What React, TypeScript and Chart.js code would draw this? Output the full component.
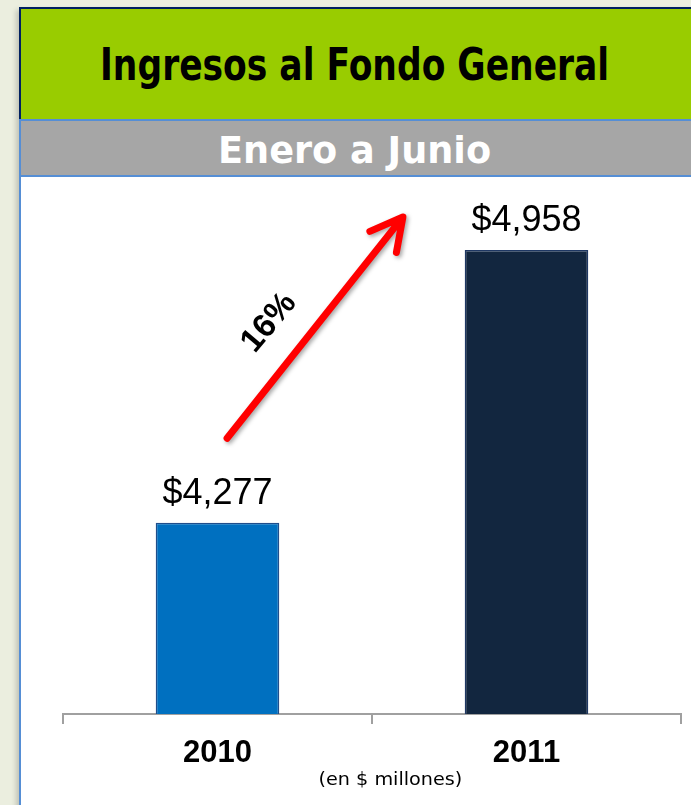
import React, { useEffect, useLayoutEffect, useRef } from "react";
import { Chart, registerables } from "chart.js";

Chart.register(...registerables);

const CATEGORIES = ["2010", "2011"];
const VALUES = [4277, 4958];
const VALUE_LABELS = ["$4,277", "$4,958"];
const BAR_COLORS = ["#0070C0", "#12263F"];
const BAR_BORDERS = ["#1F4E8C", "#1F3864"];
const Y_MIN = 3800;
const Y_MAX = 5100;
const TITLE = "Ingresos al Fondo General";
const SUBTITLE = "Enero a Junio";
const UNITS_NOTE = "(en $ millones)";
const GROWTH_LABEL = "16%";
// annotation anchors in data space: [category index, value]
const ARROW_FROM = [0.031, 4488];
const ARROW_TO = [0.6, 5040];
const GROWTH_LABEL_AT = [0.167, 4776];

const annotatePlugin = {
  id: "annotate",
  afterDatasetsDraw(chart: any) {
    const ctx = chart.ctx as CanvasRenderingContext2D;
    const xs = chart.scales.x;
    const ys = chart.scales.y;
    const meta = chart.getDatasetMeta(0);
    ctx.save();
    ctx.font = '36px "Liberation Sans"';
    ctx.fillStyle = "#000";
    ctx.textAlign = "center";
    ctx.textBaseline = "alphabetic";
    meta.data.forEach((bar: any, i: number) => {
      ctx.fillText(VALUE_LABELS[i], bar.x, bar.y - 19);
    });

    const x0 = xs.getPixelForValue(ARROW_FROM[0]);
    const y0 = ys.getPixelForValue(ARROW_FROM[1]);
    const x1 = xs.getPixelForValue(ARROW_TO[0]);
    const y1 = ys.getPixelForValue(ARROW_TO[1]);
    const ang = Math.atan2(y1 - y0, x1 - x0);
    const L = 36;
    const spread = 0.49;
    ctx.strokeStyle = "#FF0000";
    ctx.lineWidth = 7;
    ctx.lineCap = "round";
    ctx.lineJoin = "round";
    ctx.shadowColor = "rgba(0,0,0,0.35)";
    ctx.shadowBlur = 4;
    ctx.shadowOffsetX = 2;
    ctx.shadowOffsetY = 2;
    ctx.beginPath();
    ctx.moveTo(x0, y0);
    ctx.lineTo(x1 - Math.cos(ang) * 3, y1 - Math.sin(ang) * 3);
    ctx.moveTo(x1 + L * Math.cos(ang + Math.PI - spread), y1 + L * Math.sin(ang + Math.PI - spread));
    ctx.lineTo(x1, y1);
    ctx.lineTo(x1 + L * Math.cos(ang + Math.PI + spread), y1 + L * Math.sin(ang + Math.PI + spread));
    ctx.stroke();

    ctx.shadowColor = "transparent";
    ctx.shadowBlur = 0;
    ctx.shadowOffsetX = 0;
    ctx.shadowOffsetY = 0;
    const tx = xs.getPixelForValue(GROWTH_LABEL_AT[0]);
    const ty = ys.getPixelForValue(GROWTH_LABEL_AT[1]);
    ctx.translate(tx, ty);
    ctx.rotate((-50 * Math.PI) / 180);
    ctx.font = 'bold 33px "Liberation Sans"';
    ctx.textAlign = "center";
    ctx.textBaseline = "middle";
    ctx.fillStyle = "#000";
    ctx.fillText(GROWTH_LABEL, 0, 0);
    ctx.restore();
  },
};

function FitText({ text, width, style }: { text: string; width: number; style: any }) {
  const ref = useRef<HTMLSpanElement>(null);
  useLayoutEffect(() => {
    const el = ref.current;
    if (!el) return;
    const w = el.offsetWidth;
    if (w > 0) el.style.transform = `scaleX(${width / w})`;
  }, [text, width]);
  return (
    <span
      ref={ref}
      style={{ display: "inline-block", whiteSpace: "nowrap", transformOrigin: "center", ...style }}
    >
      {text}
    </span>
  );
}

export default function App() {
  const canvasRef = useRef<HTMLCanvasElement>(null);

  useEffect(() => {
    const canvas = canvasRef.current;
    if (!canvas) return;
    const chart = new Chart(canvas, {
      type: "bar",
      data: {
        labels: CATEGORIES,
        datasets: [
          {
            data: VALUES,
            backgroundColor: BAR_COLORS,
            borderColor: BAR_BORDERS,
            borderWidth: 1.5,
            barPercentage: 0.4,
            categoryPercentage: 1,
          },
        ],
      },
      options: {
        animation: false,
        responsive: false,
        devicePixelRatio: 1,
        layout: { padding: { left: 42, right: 10, top: 16, bottom: 0 } },
        plugins: { legend: { display: false }, tooltip: { enabled: false }, title: { display: false } },
        scales: {
          x: {
            grid: {
              display: true,
              drawOnChartArea: false,
              drawTicks: true,
              tickLength: 10,
              color: "#A0A0A0",
              lineWidth: 2,
              offset: true,
            },
            border: { display: true, color: "#A0A0A0", width: 2 },
            ticks: {
              color: "#000",
              padding: 11,
              font: { family: '"Liberation Sans"', size: 31, weight: "bold" },
            },
            afterFit: (scale: any) => {
              scale.height = 91;
            },
          },
          y: {
            display: false,
            min: Y_MIN,
            max: Y_MAX,
          },
        },
      },
      plugins: [annotatePlugin],
    });
    return () => chart.destroy();
  }, []);

  const abs = (s: any) => ({ position: "absolute" as const, ...s });

  return (
    <div style={{ position: "fixed", left: 0, top: 0, width: 691, height: 805, overflow: "hidden", background: "#EBEEDF" }}>
      <div style={abs({ left: 19, top: 7, width: 690, height: 800, boxShadow: "-3px 3px 5px rgba(0,0,0,0.18)" })} />
      <div style={abs({ left: 19, top: 7, width: 690, height: 112, background: "#002060" })} />
      <div style={abs({ left: 21, top: 9, width: 690, height: 110, background: "#99CC00" })} />
      <div style={abs({ left: 19, top: 119, width: 690, height: 690, background: "#558ED5" })} />
      <div style={abs({ left: 21, top: 121, width: 690, height: 54, background: "#A6A6A6" })} />
      <div style={abs({ left: 21, top: 177, width: 690, height: 640, background: "#FFFFFF" })} />

      <div style={abs({ left: 0, width: 710, top: 43, height: 44, lineHeight: "44px", textAlign: "center" })}>
        <FitText
          text={TITLE}
          width={509}
          style={{ fontFamily: '"DejaVu Sans"', fontWeight: "bold", fontSize: 44, color: "#000" }}
        />
      </div>
      <div style={abs({ left: 0, width: 710, top: 131, height: 38, lineHeight: "38px", textAlign: "center" })}>
        <FitText
          text={SUBTITLE}
          width={273}
          style={{ fontFamily: '"DejaVu Sans"', fontWeight: "bold", fontSize: 38, color: "#FFFFFF" }}
        />
      </div>

      <canvas ref={canvasRef} width={670} height={628} style={abs({ left: 21, top: 177, width: 670, height: 628 })} />

      <div style={abs({ left: 290, width: 200, top: 770, height: 18, lineHeight: "18px", textAlign: "center" })}>
        <FitText
          text={UNITS_NOTE}
          width={144}
          style={{ fontFamily: '"DejaVu Sans"', fontSize: 18, color: "#000" }}
        />
      </div>
    </div>
  );
}
